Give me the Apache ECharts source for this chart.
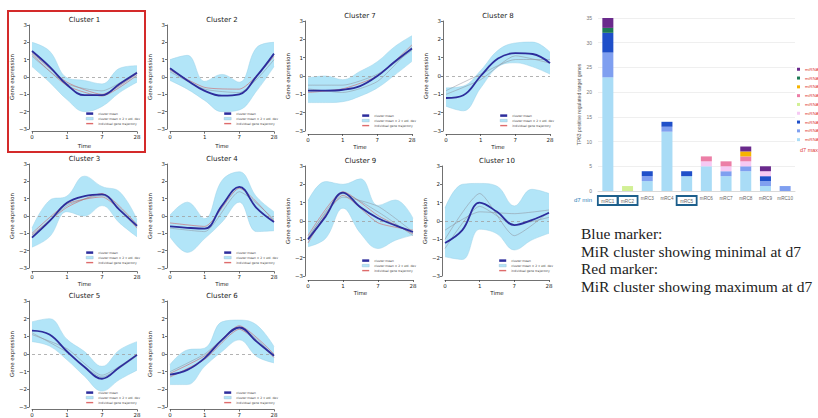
<!DOCTYPE html>
<html>
<head>
<meta charset="utf-8">
<script src="https://cdn.jsdelivr.net/npm/echarts@6/dist/echarts.min.js"></script>
<style>
html,body{margin:0;padding:0;background:#fff;}
#chart{width:818px;height:418px;}
</style>
</head>
<body>
<div id="chart"></div>
<script>
// ---------- DATA ----------
const timeLabels = ['0', '1', '7', '28'];          // sampling days (equally spaced on the axis)
const timeIdx = [0, 1, 2, 3];                       // axis positions of the sampling days
const curveX = [0, 0.5, 1, 1.5, 2, 2.5, 3];         // axis positions where the smooth curves were read

const c1Mean  = [1.5, 0.6, -0.45, -1.05, -1.05, -0.4, 0.25];
const c1Upper = [2.0, 1.5, -0.05, -0.2, -0.4, 0.5, 0.65];
const c1Lower = [0.6, -0.3, -1.3, -2.0, -1.7, -0.9, -0.3];
const c1Genes = [[1.4, -0.3, -1.0, 0.2], [1.3, -0.5, -1.1, 0.1], [1.2, -0.4, -0.8, 0.3]];

const c2Mean  = [0.5, -0.2, -0.8, -1.08, -1.0, 0.05, 1.35];
const c2Upper = [1.0, 1.25, -0.25, 0.15, -0.3, 1.7, 2.0];
const c2Lower = [-0.2, -0.7, -1.35, -2.0, -1.9, -0.8, 0.6];
const c2Genes = [[0.3, -0.7, -0.9, 1.0], [0.4, -0.6, -0.7, 1.2]];

const c3Mean  = [-1.25, -0.3, 0.76, 1.15, 1.25, 0.35, -0.57];
const c3Upper = [-0.7, 0.9, 1.15, 2.3, 1.7, 1.4, -0.2];
const c3Lower = [-1.8, -1.2, 0.25, 0.0, 0.6, -0.4, -1.2];
const c3Genes = [[-1.1, 0.5, 1.3, -0.5], [-1.0, 0.7, 1.1, -0.7], [-1.2, 0.6, 1.2, -0.6]];

const c4Mean  = [-0.6, -0.68, -0.73, 0.6, 1.68, 0.45, -0.35];
const c4Upper = [0.05, 0.8, -0.15, 2.05, 2.55, 1.1, 0.25];
const c4Lower = [-1.2, -2.1, -1.3, -0.35, 0.8, -0.9, -0.85];
const c4Genes = [[-0.4, -0.6, 1.6, -0.3], [-0.7, -0.9, 1.4, -0.2]];

const c5Mean  = [1.32, 1.1, 0.14, -0.74, -1.4, -0.75, -0.05];
const c5Upper = [1.82, 2.0, 0.83, 0.14, -0.7, 0.23, 0.7];
const c5Lower = [0.7, 0.45, -0.33, -1.26, -2.1, -1.45, -0.92];
const c5Genes = [[1.1, 0.3, -1.2, 0.0], [1.2, 0.1, -1.3, -0.1]];

const c6Mean  = [-1.17, -0.9, -0.23, 0.8, 1.5, 0.7, -0.1];
const c6Upper = [-0.6, 0.23, 0.33, 1.82, 1.92, 1.64, 0.42];
const c6Lower = [-1.73, -1.73, -0.7, 0.14, 0.8, -0.14, -0.5];
const c6Genes = [[-1.1, -0.1, 1.6, 0.0], [-1.3, -0.3, 1.4, -0.2], [-1.0, 0.0, 1.5, -0.1]];

const c7Mean  = [-0.8, -0.8, -0.75, -0.55, 0.0, 0.78, 1.5];
const c7Upper = [-0.1, 0.0, -0.2, 0.25, 0.78, 1.6, 2.2];
const c7Lower = [-1.45, -1.45, -1.4, -1.1, -0.65, 0.05, 0.8];
const c7Genes = [[-0.7, -0.9, -0.3, 1.6], [-0.5, -0.5, 0.1, 1.4], [-0.9, -0.7, 0.0, 1.7]];

const c8Mean  = [-1.2, -1.05, 0.0, 0.95, 1.25, 1.2, 0.7];
const c8Upper = [-0.65, -0.55, 0.3, 1.4, 1.8, 1.85, 1.3];
const c8Lower = [-1.65, -1.9, -0.65, 0.5, 0.72, 0.5, 0.1];
const c8Genes = [[-1.0, -0.2, 1.1, 0.7], [-0.8, 0.1, 0.9, 0.9]];

const c9Mean  = [-1.0, 0.24, 1.55, 0.75, 0.15, -0.24, -0.6];
const c9Upper = [1.1, 2.15, 2.0, 2.3, 0.85, 1.15, 0.15];
const c9Lower = [-1.4, -0.95, 0.7, -0.67, -1.5, -1.05, -0.77];
const c9Genes = [[-0.8, 1.6, 0.3, -0.7], [-1.2, 1.4, -0.1, -0.5], [-0.9, 1.3, 0.8, -0.6], [-1.0, 1.5, 0.5, -0.8]];

const c10Mean  = [-1.2, -0.5, 1.0, 0.5, -0.22, 0.05, 0.45];
const c10Upper = [0.7, 2.0, 2.05, 1.9, 0.82, 1.73, 1.5];
const c10Lower = [-1.95, -2.1, -0.45, -0.7, -1.58, -1.04, -0.67];
const c10Genes = [[-1.0, 1.5, -0.8, 0.5], [-0.5, 0.5, 0.4, 0.6], [-1.5, 0.8, -0.2, 0.2]];

// bar chart
const barCategories = ['mRC1', 'mRC2', 'mRC3', 'mRC4', 'mRC5', 'mRC6', 'mRC7', 'mRC8', 'mRC9', 'mRC10'];
const minMarked = ['mRC1', 'mRC2', 'mRC5'];
const mirNames = ['miRNA-1', 'miRNA-2', 'miRNA-3', 'miRNA-4', 'miRNA-5', 'miRNA-6', 'miRNA-7', 'miRNA-8', 'miRNA-9'];
const mir1 = [23, 0, 2, 12, 3, 5, 3, 4, 1, 0];
const mir2 = [5, 0, 1, 1, 0, 0, 1, 1, 1, 1];
const mir3 = [4, 0, 1, 1, 1, 0, 0, 0, 1, 0];
const mir4 = [0, 0, 0, 0, 0, 1, 1, 1, 1, 0];
const mir5 = [0, 1, 0, 0, 0, 0, 0, 0, 0, 0];
const mir6 = [0, 0, 0, 0, 0, 1, 1, 1, 0, 0];
const mir7 = [0, 0, 0, 0, 0, 0, 0, 1, 0, 0];
const mir8 = [1, 0, 0, 0, 0, 0, 0, 0, 0, 0];
const mir9 = [2, 0, 0, 0, 0, 0, 0, 1, 1, 0];

const noteLines = ['Blue marker:', 'MiR cluster showing minimal at d7', 'Red marker:', 'MiR cluster showing maximum at d7'];

// ---------- LAYOUT / STYLE ----------
const RED = 'rgba(214,70,70,0.55)', GRAY = 'rgba(140,140,150,0.55)';
const panels = [
  {title: 'Cluster 1', mean: c1Mean, upper: c1Upper, lower: c1Lower, genes: c1Genes, gc: [RED, RED, GRAY], box: [32, 25, 105, 104], ty: 20, timeY: 146, off: 2.7},
  {title: 'Cluster 2', mean: c2Mean, upper: c2Upper, lower: c2Lower, genes: c2Genes, gc: [GRAY, RED], box: [170, 25, 104, 104], ty: 20, timeY: 146, off: 2.7},
  {title: 'Cluster 7', mean: c7Mean, upper: c7Upper, lower: c7Lower, genes: c7Genes, gc: [GRAY, GRAY, RED], box: [308, 21, 104, 110], ty: 16, timeY: 147, off: 3},
  {title: 'Cluster 8', mean: c8Mean, upper: c8Upper, lower: c8Lower, genes: c8Genes, gc: [GRAY, GRAY], box: [446, 21, 104, 110], ty: 16, timeY: 147, off: 3},
  {title: 'Cluster 3', mean: c3Mean, upper: c3Upper, lower: c3Lower, genes: c3Genes, gc: [RED, RED, GRAY], box: [32, 164, 105, 104], ty: 159, timeY: 284, off: 3.5},
  {title: 'Cluster 4', mean: c4Mean, upper: c4Upper, lower: c4Lower, genes: c4Genes, gc: [RED, GRAY], box: [170, 164, 104, 104], ty: 159, timeY: 284, off: 3.5},
  {title: 'Cluster 9', mean: c9Mean, upper: c9Upper, lower: c9Lower, genes: c9Genes, gc: [RED, RED, GRAY, GRAY], box: [308, 166, 105, 110], ty: 161, timeY: 293, off: 4},
  {title: 'Cluster 10', mean: c10Mean, upper: c10Upper, lower: c10Lower, genes: c10Genes, gc: [GRAY, GRAY, GRAY], box: [445, 166, 104, 110], ty: 161, timeY: 293, off: 4},
  {title: 'Cluster 5', mean: c5Mean, upper: c5Upper, lower: c5Lower, genes: c5Genes, gc: [GRAY, GRAY], box: [32, 301, 105, 107], ty: 296, timeY: null, off: 2.5},
  {title: 'Cluster 6', mean: c6Mean, upper: c6Upper, lower: c6Lower, genes: c6Genes, gc: [RED, RED, GRAY], box: [170, 301, 104, 107], ty: 296, timeY: null, off: 2.5}
];
const mirColors = ['#a9dcf6', '#7f9ff0', '#1f4fc9', '#f6c9f3', '#d2f095', '#ec7ea6', '#f6b400', '#1d7a55', '#6a2a8c'];
const mirSeries = [mir1, mir2, mir3, mir4, mir5, mir6, mir7, mir8, mir9];

const FONT = 'DejaVu Sans';
const BAND = '#b2e5f8', MEAN = '#2d2d9c';
const NAME_MEAN = 'cluster mean', NAME_BAND = 'cluster mean \u00b1 2 x std. dev', NAME_GENE = 'individual gene trajectory';

// category positions along the time axis (only the sampling days carry a label)
const curveCats = curveX.map(x => (timeIdx.includes(x) ? timeLabels[timeIdx.indexOf(x)] : ''));

const grid = [], xAxis = [], yAxis = [], series = [], legend = [], graphic = [];
const minus = v => (v < 0 ? '\u2212' + Math.abs(v) : String(v));

panels.forEach((p, i) => {
  const [l, t, w, h] = p.box;
  grid.push({left: l, top: t, width: w, height: h});
  xAxis.push({
    gridIndex: i, type: 'category', data: curveCats, boundaryGap: false, offset: p.off,
    axisLine: {show: true, onZero: false, lineStyle: {color: '#333', width: 0.7}},
    axisTick: {show: true, length: 2, interval: 1, lineStyle: {color: '#333', width: 0.7}},
    axisLabel: {fontSize: 5.5, color: '#222', margin: 2.5, fontFamily: FONT, interval: 1},
    splitLine: {show: false}
  });
  yAxis.push({
    gridIndex: i, type: 'value', min: -3, max: 3, interval: 1, offset: 3,
    axisLine: {show: true, onZero: false, lineStyle: {color: '#333', width: 0.7}},
    axisTick: {show: true, length: 2, lineStyle: {color: '#333', width: 0.7}},
    axisLabel: {fontSize: 5.5, color: '#222', margin: 2, fontFamily: FONT, formatter: minus},
    splitLine: {show: false},
    name: 'Gene expression', nameLocation: 'middle', nameGap: 13,
    nameTextStyle: {fontSize: 5.5, color: '#222', fontFamily: FONT}
  });
  series.push({
    type: 'line', name: 'band base', xAxisIndex: i, yAxisIndex: i, stack: 'band' + i, stackStrategy: 'all',
    smooth: 0.4, symbol: 'none', silent: true, z: 1,
    data: p.lower.slice(),
    lineStyle: {color: '#9dd3e8', width: 0.5}
  });
  series.push({
    type: 'line', name: NAME_BAND, xAxisIndex: i, yAxisIndex: i, stack: 'band' + i, stackStrategy: 'all',
    smooth: 0.4, symbol: 'none', silent: true, z: 1,
    data: p.upper.map((u, k) => u - p.lower[k]),
    lineStyle: {color: '#9dd3e8', width: 0.5},
    itemStyle: {color: BAND},
    areaStyle: {color: BAND, opacity: 1}
  });
  p.genes.forEach((g, j) => {
    series.push({
      type: 'line', name: NAME_GENE, xAxisIndex: i, yAxisIndex: i, symbol: 'none', silent: true, z: 3,
      smooth: 0.2, connectNulls: true,
      data: curveX.map(x => (timeIdx.includes(x) ? g[timeIdx.indexOf(x)] : null)),
      lineStyle: {color: p.gc[j % p.gc.length], width: 0.9},
      itemStyle: {color: p.gc[j % p.gc.length]}
    });
  });
  series.push({
    type: 'line', name: NAME_MEAN, xAxisIndex: i, yAxisIndex: i, symbol: 'none', silent: true, z: 5,
    smooth: 0.4,
    data: p.mean.slice(),
    lineStyle: {color: MEAN, width: 1.8},
    itemStyle: {color: MEAN},
    markLine: {
      silent: true, symbol: 'none', label: {show: false},
      lineStyle: {color: '#a0a0a0', type: [3, 3], width: 0.8},
      data: [{yAxis: 0}]
    }
  });
  legend.push({
    left: l + 54, top: t + h - 17, orient: 'vertical', itemWidth: 7, itemHeight: 2.5, itemGap: 1.8,
    selectedMode: false, padding: 0,
    textStyle: {fontSize: 3, color: '#444', fontFamily: FONT, lineHeight: 3.2},
    data: [
      {name: NAME_MEAN, icon: 'rect', itemStyle: {color: MEAN}},
      {name: NAME_BAND, icon: 'rect', itemStyle: {color: BAND, borderColor: '#8fb6d0', borderWidth: 0.4}},
      {name: NAME_GENE, icon: 'path://M0,4 L10,4 L10,6 L0,6 Z', itemStyle: {color: 'rgba(214,70,70,0.8)'}}
    ]
  });
  graphic.push({
    type: 'text', x: l + w / 2, y: p.ty, silent: true,
    style: {text: p.title, fontSize: 7, fontFamily: FONT, fill: '#222', align: 'center', verticalAlign: 'middle'}
  });
  if (p.timeY !== null) {
    graphic.push({
      type: 'text', x: l + w / 2, y: p.timeY, silent: true,
      style: {text: 'Time', fontSize: 5.5, fontFamily: FONT, fill: '#222', align: 'center', verticalAlign: 'middle'}
    });
  }
});

// ---------- bar chart ----------
const bi = panels.length;
grid.push({left: 598, top: 18, width: 197, height: 173});
xAxis.push({
  gridIndex: bi, type: 'category', data: barCategories,
  axisLine: {show: true, lineStyle: {color: '#d9d9d9'}}, axisTick: {show: false},
  axisLabel: {
    interval: 0, fontSize: 4.6, color: '#666', margin: 5, fontFamily: 'Liberation Sans',
    formatter: v => (minMarked.includes(v) ? '{box|' + v + '}' : v),
    rich: {box: {fontSize: 4.6, color: '#666', borderColor: '#1d5f8c', borderWidth: 1.8, padding: [2.5, 3.5, 1.5, 3.5], fontFamily: 'Liberation Sans'}}
  },
  splitLine: {show: false}
});
yAxis.push({
  gridIndex: bi, type: 'value', min: 0, max: 35, interval: 5,
  axisLine: {show: false}, axisTick: {show: false},
  axisLabel: {fontSize: 5, color: '#777', margin: 6, fontFamily: 'Liberation Sans'},
  splitLine: {show: true, lineStyle: {color: '#e8e8e8', width: 0.7}},
  name: 'TP63 positive regulated target genes', nameLocation: 'middle', nameGap: 17,
  nameTextStyle: {fontSize: 5, color: '#555', fontFamily: 'Liberation Sans'}
});
mirSeries.forEach((vals, j) => {
  series.push({
    type: 'bar', name: mirNames[j], xAxisIndex: bi, yAxisIndex: bi, stack: 'mir', barWidth: 11,
    data: vals, silent: true, itemStyle: {color: mirColors[j]}
  });
});
legend.push({
  left: 797, top: 67, orient: 'vertical', itemWidth: 3, itemHeight: 3, itemGap: 4.3, padding: 0,
  selectedMode: false, icon: 'rect',
  formatter: name => name.split('-')[0],
  textStyle: {fontSize: 4.3, color: '#e03a3a', fontFamily: 'Liberation Sans', lineHeight: 4.5},
  data: mirNames.slice().reverse()
});

// static texts and frame
graphic.push({type: 'rect', shape: {x: 8, y: 11, width: 137, height: 141}, silent: true,
  style: {fill: 'none', stroke: '#d42a2a', lineWidth: 2}});
graphic.push({type: 'text', x: 574, y: 200, silent: true,
  style: {text: 'd7 min', fontSize: 6, fontFamily: 'Liberation Sans', fill: '#2c7fb8', verticalAlign: 'middle'}});
graphic.push({type: 'text', x: 800, y: 150, silent: true,
  style: {text: 'd7 max', fontSize: 5.5, fontFamily: 'Liberation Sans', fill: '#e03a3a', verticalAlign: 'middle'}});
noteLines.forEach((s, k) => {
  graphic.push({type: 'text', x: 581, y: [233, 251, 268, 286][k], silent: true,
    style: {text: s, fontSize: 15.5, fontFamily: 'Liberation Serif', fill: '#222', verticalAlign: 'middle'}});
});

const chart = echarts.init(document.getElementById('chart'), null, {renderer: 'svg'});
chart.setOption({
  animation: false,
  backgroundColor: '#fff',
  textStyle: {fontFamily: FONT},
  grid, xAxis, yAxis, series, legend, graphic
});
</script>
</body>
</html>
